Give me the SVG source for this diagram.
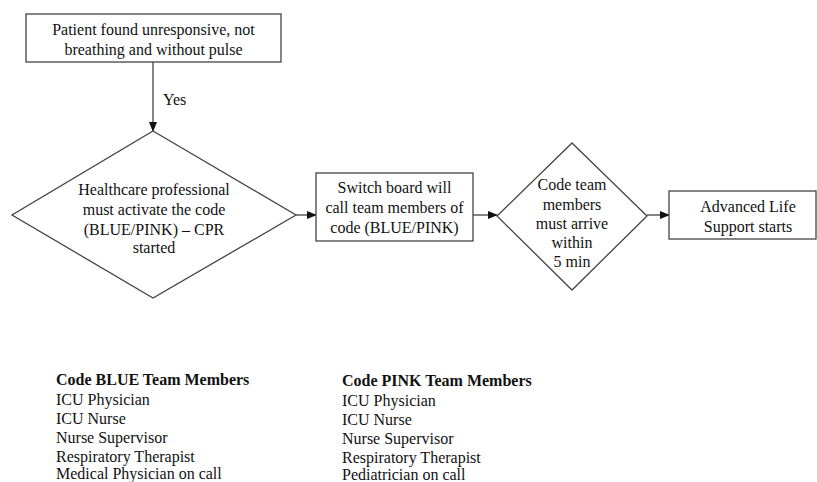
<svg xmlns="http://www.w3.org/2000/svg" width="817" height="482" viewBox="0 0 817 482">
<style>
.n{fill:#fff;stroke:#444;stroke-width:1.3}
.t{font-family:'Liberation Serif','Times New Roman',serif;font-size:16px;fill:#111}
.c{text-anchor:middle}
.b{font-weight:bold}
.l{stroke:#333;stroke-width:1.2;fill:none}
</style>
<defs>
<marker id="ah" markerWidth="10" markerHeight="8" refX="9" refY="4" orient="auto" markerUnits="userSpaceOnUse">
<path d="M0,0 L10,4 L0,8 Z" fill="#111"/>
</marker>
</defs>
<rect width="817" height="482" fill="#fff"/>
<g id="connectors">
<line class="l" x1="153" y1="62" x2="153" y2="131" marker-end="url(#ah)"/>
<text class="t" x="163" y="105">Yes</text>
<line class="l" x1="296" y1="215" x2="316" y2="215" marker-end="url(#ah)"/>
<line class="l" x1="473" y1="215" x2="497" y2="215" marker-end="url(#ah)"/>
<line class="l" x1="647" y1="215" x2="669" y2="215" marker-end="url(#ah)"/>
</g>
<g id="start">
<rect class="n" x="26" y="14" width="255" height="48"/>
<text class="t c" x="153.5" y="35">Patient found unresponsive, not</text>
<text class="t c" x="153.5" y="55">breathing and without pulse</text>
</g>
<g id="activate">
<polygon class="n" points="153,131 296,215 153,298 12,215"/>
<text class="t c" x="154" y="195">Healthcare professional</text>
<text class="t c" x="154" y="215">must activate the code</text>
<text class="t c" x="154" y="235">(BLUE/PINK) – CPR</text>
<text class="t c" x="154" y="253">started</text>
</g>
<g id="switchboard">
<rect class="n" x="316" y="173" width="157" height="68"/>
<text class="t c" x="394.5" y="193">Switch board will</text>
<text class="t c" x="394.5" y="213">call team members of</text>
<text class="t c" x="394.5" y="233">code (BLUE/PINK)</text>
</g>
<g id="arrive">
<polygon class="n" points="572,143 647,216 572,290 497,216"/>
<text class="t c" x="572" y="190">Code team</text>
<text class="t c" x="572" y="210">members</text>
<text class="t c" x="572" y="229">must arrive</text>
<text class="t c" x="572" y="248">within</text>
<text class="t c" x="572" y="267">5 min</text>
</g>
<g id="als">
<rect class="n" x="669" y="191" width="147" height="48"/>
<text class="t c" x="748" y="212">Advanced Life</text>
<text class="t c" x="748" y="232">Support starts</text>
</g>
<g id="blue-list">
<text class="t b" x="56" y="385">Code BLUE Team Members</text>
<text class="t" x="56" y="405">ICU Physician</text>
<text class="t" x="56" y="424">ICU Nurse</text>
<text class="t" x="56" y="443">Nurse Supervisor</text>
<text class="t" x="56" y="462">Respiratory Therapist</text>
<text class="t" x="56" y="479">Medical Physician on call</text>
</g>
<g id="pink-list">
<text class="t b" x="342" y="386">Code PINK Team Members</text>
<text class="t" x="342" y="406">ICU Physician</text>
<text class="t" x="342" y="425">ICU Nurse</text>
<text class="t" x="342" y="444">Nurse Supervisor</text>
<text class="t" x="342" y="463">Respiratory Therapist</text>
<text class="t" x="342" y="480">Pediatrician on call</text>
</g>
</svg>
